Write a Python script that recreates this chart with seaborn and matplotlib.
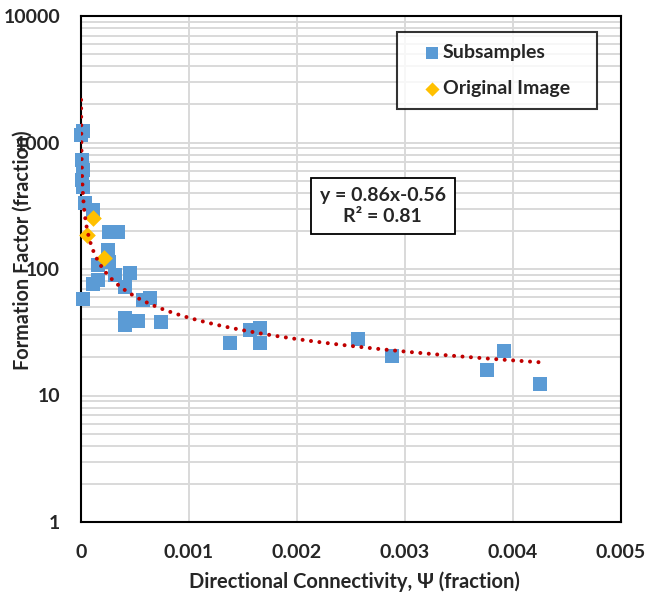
import numpy as np
import pandas as pd
import matplotlib
matplotlib.use("Agg")
import matplotlib.pyplot as plt
import seaborn as sns
from matplotlib.ticker import FixedLocator, LogLocator, NullFormatter, FuncFormatter

# Subsamples: directional connectivity (fraction) vs formation factor
sub_psi = [0.000002, 0.000018, 0.000009, 0.000014, 0.000009, 0.000018, 0.000037,
           0.000111, 0.00026, 0.00034, 0.00025, 0.000255, 0.000157, 0.000157,
           0.000114, 0.000016, 0.000315, 0.000454, 0.000407, 0.000577, 0.000639,
           0.000407, 0.000407, 0.00053, 0.000738, 0.00138, 0.001565, 0.001657,
           0.001657, 0.002565, 0.00288, 0.003757, 0.003917, 0.00425]
sub_ff = [1150, 1230, 727, 606, 505, 445, 333,
          293, 197, 197, 141, 113, 107, 82,
          76, 58, 89, 93, 72, 57, 59,
          41, 36, 38.6, 38.3, 26, 33, 34.2,
          26, 27.8, 20.6, 15.9, 22.6, 12.3]

# Original image
orig_psi = [0.000114, 0.000058, 0.000213]
orig_ff = [252, 186, 121.6]

# power trend line y = a * x^b
fit_a = 0.86
fit_b = -0.56
fit_range = [8.4e-7, 0.00425]

BLUE = "#5B9BD5"
ORANGE = "#FFC000"
RED = "#C00000"
GRID = "#D9D9D9"
W = "bold"

df_sub = pd.DataFrame({"psi": sub_psi, "ff": sub_ff})
df_orig = pd.DataFrame({"psi": orig_psi, "ff": orig_ff})
trend_x = np.geomspace(fit_range[0], fit_range[1], 400)
df_fit = pd.DataFrame({"psi": trend_x, "ff": fit_a * trend_x ** fit_b})

sns.set_style("white")
plt.rcParams["font.family"] = ["Lato", "DejaVu Sans"]
plt.rcParams["font.weight"] = "bold"

fig = plt.figure(figsize=(6.48, 5.98), dpi=100)
ax = fig.add_axes([81 / 648, 1 - 522 / 598, 540 / 648, 506 / 598])

sns.scatterplot(data=df_sub, x="psi", y="ff", marker="s", s=105, color=BLUE,
                linewidth=0, label="Subsamples", ax=ax, zorder=3, clip_on=False)
sns.scatterplot(data=df_orig, x="psi", y="ff", marker="D", s=72, color=ORANGE,
                linewidth=0, label="Original Image", ax=ax, zorder=4, clip_on=False)
sns.lineplot(data=df_fit, x="psi", y="ff", color=RED, linewidth=2.9,
             linestyle=(0, (0.001, 2.1)), dash_capstyle="round",
             sort=False, estimator=None, ax=ax, zorder=5, legend=False)

ax.set_yscale("log")
ax.set_xlim(0, 0.005)
ax.set_ylim(1, 10000)

ax.xaxis.set_major_locator(FixedLocator([0, 0.001, 0.002, 0.003, 0.004, 0.005]))
ax.xaxis.set_major_formatter(FuncFormatter(lambda v, p: "%g" % round(v, 6)))
ax.yaxis.set_major_locator(FixedLocator([1, 10, 100, 1000, 10000]))
ax.yaxis.set_major_formatter(FuncFormatter(lambda v, p: "%d" % round(v)))
ax.yaxis.set_minor_locator(LogLocator(base=10, subs=np.arange(2, 10)))
ax.yaxis.set_minor_formatter(NullFormatter())

ax.grid(True, which="major", axis="both", color=GRID, linewidth=1.4, zorder=0)
ax.grid(True, which="minor", axis="y", color=GRID, linewidth=1.4, zorder=0)
ax.set_axisbelow(True)
ax.tick_params(axis="both", which="both", length=0, labelsize=14)
ax.tick_params(axis="x", pad=16)
ax.tick_params(axis="y", pad=15)
for lab in ax.get_xticklabels() + ax.get_yticklabels():
    lab.set_fontweight(W)

for sp in ax.spines.values():
    sp.set_visible(True)
    sp.set_color("black")
    sp.set_linewidth(1.5)

ax.set_xlabel("")
ax.set_ylabel("")
fig.text(354 / 648, 1 - 582 / 598, "Directional Connectivity, \u03a8 (fraction)",
         ha="center", va="center", fontsize=14.5, fontweight=W,
         family=["Lato", "Liberation Serif"])
fig.text(23 / 648, 1 - 250 / 598, "Formation Factor (fraction)", rotation=90,
         ha="center", va="center", fontsize=14.3, fontweight=W)

leg = ax.legend(loc="upper left", bbox_to_anchor=(0.585, 0.968, 0.371, 0.0),
                mode="expand", borderaxespad=0, frameon=True, fancybox=False,
                edgecolor="black", fontsize=14, handlelength=2.4,
                handletextpad=-0.65, borderpad=0.6, labelspacing=1.0,
                markerscale=0.85)
leg.get_frame().set_linewidth(1.5)
for t in leg.get_texts():
    t.set_fontweight(W)

ax.text(0.559, 0.6245, "y = 0.86x-0.56\nR\u00b2 = 0.81", transform=ax.transAxes,
        ha="center", va="center", multialignment="center", fontsize=14,
        fontweight=W, linespacing=1.35, zorder=6,
        bbox=dict(boxstyle="square,pad=0.45", facecolor="white",
                  edgecolor="black", linewidth=1.3))

fig.savefig("out.png", dpi=100)
